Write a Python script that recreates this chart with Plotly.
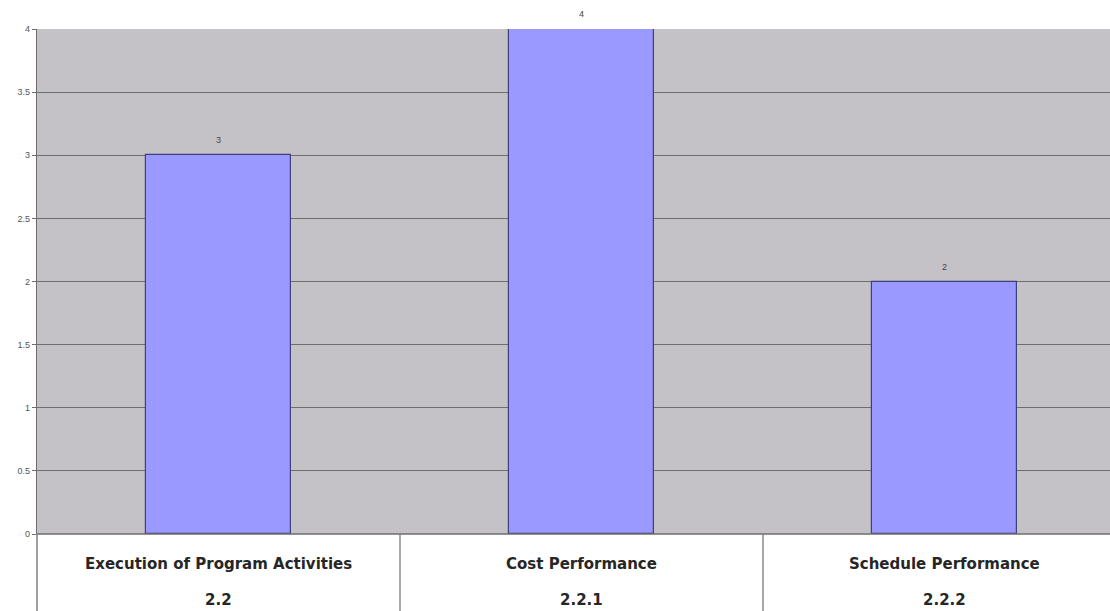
import plotly.graph_objects as go

# Chart data
categories = ["Execution of Program Activities", "Cost Performance", "Schedule Performance"]
codes = ["2.2", "2.2.1", "2.2.2"]
values = [3, 4, 2]
y_ticks = [0, 0.5, 1, 1.5, 2, 2.5, 3, 3.5, 4]

W, H = 1110, 611
ML, MT, MB = 37, 29, 77

fig = go.Figure()
fig.add_trace(go.Bar(
    x=list(range(len(categories))),
    y=values,
    width=0.4,
    marker=dict(color="#9999FF", line=dict(color="#3F3F7F", width=1.2)),
    hoverinfo="skip",
))

# value labels above each bar
for i, v in enumerate(values):
    fig.add_annotation(x=i, y=v, xref="x", yref="y", text=str(v), showarrow=False,
                       yanchor="bottom", yshift=8,
                       font=dict(family="Liberation Sans, Arial", size=9, color="#444444"))

# last category slot runs slightly past the right edge of the page
slot_px = 363.0
plot_w = W - ML
x_max = -0.5 + plot_w / slot_px

fig.update_layout(
    width=W, height=H,
    margin=dict(l=ML, r=0, t=MT, b=MB),
    paper_bgcolor="white",
    plot_bgcolor="#C4C2C6",
    showlegend=False,
    bargap=0,
    xaxis=dict(range=[-0.5, x_max], showticklabels=False, showgrid=False,
               zeroline=False, showline=False, fixedrange=True),
    yaxis=dict(range=[0, 4], tickvals=y_ticks,
               ticktext=[f"{t:g}" for t in y_ticks],
               tickfont=dict(family="Liberation Sans, Arial", size=9, color="#555555"),
               showgrid=True, gridcolor="#6E6E6E", gridwidth=1.3,
               zeroline=False, showline=True, linecolor="#6E6E6E", linewidth=1.3,
               ticks="outside", ticklen=4, tickcolor="#6E6E6E", tickwidth=1,
               fixedrange=True),
)

# Category table below the axis
plot_h = H - MT - MB
table_frac = MB / plot_h  # table depth in y-domain units
fig.add_shape(type="line", xref="paper", yref="paper", x0=0, x1=1, y0=0, y1=0,
              line=dict(color="#6E6E6E", width=1.5))
fig.add_shape(type="line", xref="paper", yref="paper", x0=0, x1=0, y0=0, y1=-table_frac,
              line=dict(color="#6E6E6E", width=1.3))
for i in range(len(categories) - 1):
    fig.add_shape(type="line", xref="x", yref="paper", x0=i + 0.5, x1=i + 0.5,
                  y0=0, y1=-table_frac, line=dict(color="#7A7A7A", width=1.3))

label_font = dict(family="DejaVu Sans", size=15, color="#262626")
for i, (cat, code) in enumerate(zip(categories, codes)):
    fig.add_annotation(x=i, xref="x", yref="paper", y=-30 / plot_h, text=f"<b>{cat}</b>",
                       showarrow=False, yanchor="middle", font=label_font)
    fig.add_annotation(x=i, xref="x", yref="paper", y=-66 / plot_h, text=f"<b>{code}</b>",
                       showarrow=False, yanchor="middle", font=label_font)

fig.write_html("out.html", config={"displayModeBar": False})
